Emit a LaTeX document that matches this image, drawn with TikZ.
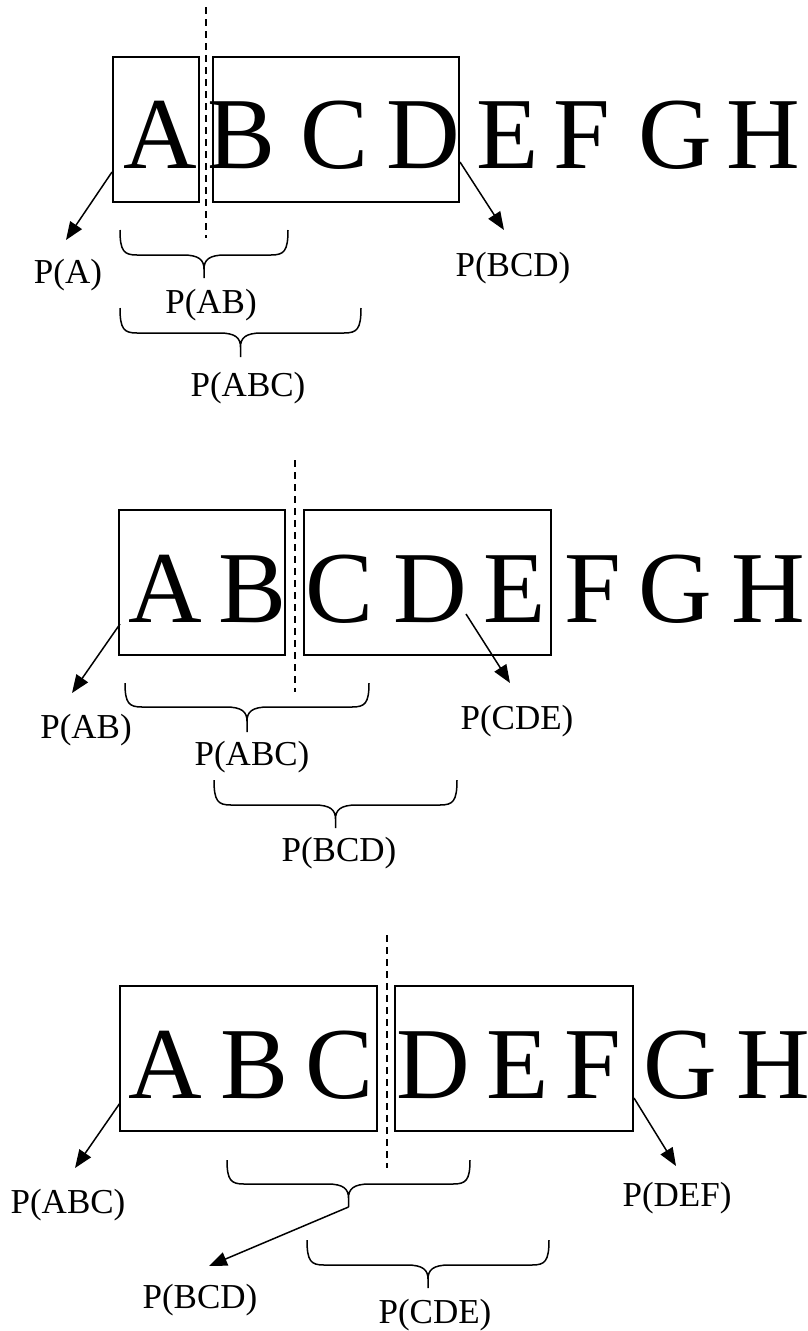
\documentclass[tikz,border=0pt]{standalone}
\usepackage{fontspec}
\setmainfont{Liberation Serif}
\usetikzlibrary{arrows.meta,calc}
\newcommand{\drawcbrace}[6]{% name, x1, x2, top, mid, tip
  \coordinate (#1) at ({(#2+#3)/2},#6);
  \draw[bracestyle] (#2,#4) .. controls (#2,{#4+0.85*(#5-#4)}) and ({#2+4},#5) .. ({#2+17},#5)
    -- ({(#2+#3)/2-21},#5) .. controls ({(#2+#3)/2-5},#5) and ({(#2+#3)/2},{#5+5}) .. ({(#2+#3)/2},{#5+14})
    -- (#1)
    ({(#2+#3)/2},{#5+14}) .. controls ({(#2+#3)/2},{#5+5}) and ({(#2+#3)/2+5},#5) .. ({(#2+#3)/2+21},#5)
    -- ({#3-17},#5) .. controls ({#3-4},#5) and (#3,{#4+0.85*(#5-#4)}) .. (#3,#4);
}
\begin{document}
\begin{tikzpicture}[x=1pt,y=-1pt,
  letter/.style={font=\fontsize{102}{102}\selectfont, inner sep=0pt, anchor=base},
  lbl/.style={font=\fontsize{35}{38}\selectfont, inner sep=0pt},
  wbox/.style={draw, line width=1.6pt, minimum height=145pt, inner sep=0pt},
  arr/.style={line width=1.5pt, -{Triangle[length=18pt,width=14pt]}},
  divider/.style={line width=1.3pt, dash pattern=on 7pt off 5pt},
  bracestyle/.style={line width=1.5pt}]
\useasboundingbox (0,0) rectangle (807,1331);

% ---------------- Panel 1 ----------------
\foreach \l/\x in {A/160,B/242,C/335,D/423,E/508,F/582,G/675,H/763}
  \node[letter] (p1\l) at (\x,168) {\l};
\node[wbox, minimum width=86pt] (p1boxA) at (156,129.5) {};
\node[wbox, minimum width=246pt] (p1boxBCD) at (336,129.5) {};
\coordinate (p1dtop) at (206,7);
\coordinate (p1dbot) at (206,238);
\draw[divider] (p1dtop) -- (p1dbot);
\coordinate (p1a1s) at (112,172);
\coordinate (p1a1e) at (66,240);
\coordinate (p1a2s) at (460,162);
\coordinate (p1a2e) at (504,230);
\draw[arr] (p1a1s) -- (p1a1e);
\draw[arr] (p1a2s) -- (p1a2e);
\node[lbl] (p1PA) at (68,275) {P(A)};
\node[lbl] (p1PBCD) at (513,268) {P(BCD)};
\drawcbrace{p1b1}{120}{288}{230}{255}{278}
\drawcbrace{p1b2}{120}{361}{308}{333}{357}
\node[lbl] (p1PAB) at (211,305) {P(AB)};
\node[lbl] (p1PABC) at (248,388) {P(ABC)};

% ---------------- Panel 2 ----------------
\foreach \l/\x in {A/165,B/253,C/340,D/430,E/515,F/593,G/675,H/768}
  \node[letter] (p2\l) at (\x,622) {\l};
\node[wbox, minimum width=166pt] (p2boxAB) at (202,582.5) {};
\node[wbox, minimum width=247pt] (p2boxCDE) at (427.5,582.5) {};
\coordinate (p2dtop) at (295,460);
\coordinate (p2dbot) at (295,692);
\draw[divider] (p2dtop) -- (p2dbot);
\coordinate (p2a1s) at (120,624);
\coordinate (p2a1e) at (72,693);
\coordinate (p2a2s) at (466,614);
\coordinate (p2a2e) at (510,683);
\draw[arr] (p2a1s) -- (p2a1e);
\draw[arr] (p2a2s) -- (p2a2e);
\node[lbl] (p2PAB) at (86,730) {P(AB)};
\node[lbl] (p2PCDE) at (517,721) {P(CDE)};
\drawcbrace{p2b1}{125}{369}{683}{707}{732}
\drawcbrace{p2b2}{214}{457}{780}{805}{828}
\node[lbl] (p2PABC) at (252,757) {P(ABC)};
\node[lbl] (p2PBCD) at (339,853) {P(BCD)};

% ---------------- Panel 3 ----------------
\foreach \l/\x in {A/165,B/255,C/340,D/433,E/518,F/593,G/680,H/773}
  \node[letter] (p3\l) at (\x,1098) {\l};
\node[wbox, minimum width=257pt] (p3boxABC) at (248.5,1058.5) {};
\node[wbox, minimum width=238pt] (p3boxDEF) at (514,1058.5) {};
\coordinate (p3dtop) at (387,935);
\coordinate (p3dbot) at (387,1168);
\draw[divider] (p3dtop) -- (p3dbot);
\coordinate (p3a1s) at (120,1103);
\coordinate (p3a1e) at (75,1168);
\coordinate (p3a2s) at (634,1098);
\coordinate (p3a2e) at (676,1166);
\draw[arr] (p3a1s) -- (p3a1e);
\draw[arr] (p3a2s) -- (p3a2e);
\node[lbl] (p3PABC) at (68,1205) {P(ABC)};
\node[lbl] (p3PDEF) at (677,1198) {P(DEF)};
\drawcbrace{p3b1}{227}{470}{1160}{1184}{1207}
\drawcbrace{p3b2}{307}{549}{1240}{1265}{1288}
\coordinate (p3a3e) at (209,1266);
\draw[arr] (p3b1) -- (p3a3e);
\node[lbl] (p3PBCD) at (200,1300) {P(BCD)};
\node[lbl] (p3PCDE) at (435,1315) {P(CDE)};
\end{tikzpicture}
\end{document}
